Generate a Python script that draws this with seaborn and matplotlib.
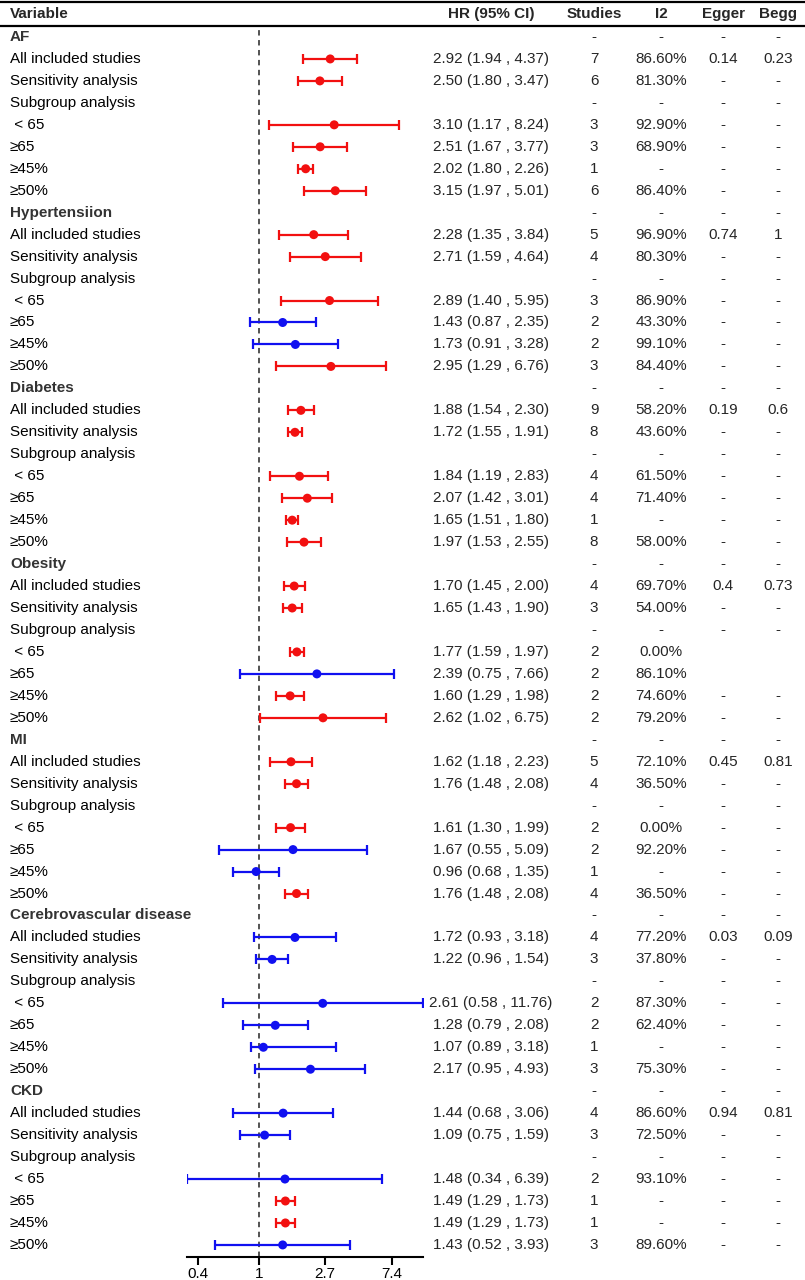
import numpy as np
import pandas as pd
import seaborn as sns
import matplotlib.pyplot as plt
from matplotlib.lines import Line2D
from matplotlib.transforms import blended_transform_factory

# rows of the table, one group header + 7 rows per risk factor
groups = ["AF", "Hypertensiion", "Diabetes", "Obesity", "MI",
          "Cerebrovascular disease", "CKD"]
sub_labels = ["All included studies", "Sensitivity analysis", "Subgroup analysis",
              " < 65", "≥65", "≥45%", "≥50%"]

nan = np.nan
hr = [nan, 2.92, 2.50, nan, 3.10, 2.51, 2.02, 3.15,
      nan, 2.28, 2.71, nan, 2.89, 1.43, 1.73, 2.95,
      nan, 1.88, 1.72, nan, 1.84, 2.07, 1.65, 1.97,
      nan, 1.70, 1.65, nan, 1.77, 2.39, 1.60, 2.62,
      nan, 1.62, 1.76, nan, 1.61, 1.67, 0.96, 1.76,
      nan, 1.72, 1.22, nan, 2.61, 1.28, 1.07, 2.17,
      nan, 1.44, 1.09, nan, 1.48, 1.49, 1.49, 1.43]
ci_low = [nan, 1.94, 1.80, nan, 1.17, 1.67, 1.80, 1.97,
          nan, 1.35, 1.59, nan, 1.40, 0.87, 0.91, 1.29,
          nan, 1.54, 1.55, nan, 1.19, 1.42, 1.51, 1.53,
          nan, 1.45, 1.43, nan, 1.59, 0.75, 1.29, 1.02,
          nan, 1.18, 1.48, nan, 1.30, 0.55, 0.68, 1.48,
          nan, 0.93, 0.96, nan, 0.58, 0.79, 0.89, 0.95,
          nan, 0.68, 0.75, nan, 0.34, 1.29, 1.29, 0.52]
ci_high = [nan, 4.37, 3.47, nan, 8.24, 3.77, 2.26, 5.01,
           nan, 3.84, 4.64, nan, 5.95, 2.35, 3.28, 6.76,
           nan, 2.30, 1.91, nan, 2.83, 3.01, 1.80, 2.55,
           nan, 2.00, 1.90, nan, 1.97, 7.66, 1.98, 6.75,
           nan, 2.23, 2.08, nan, 1.99, 5.09, 1.35, 2.08,
           nan, 3.18, 1.54, nan, 11.76, 2.08, 3.18, 4.93,
           nan, 3.06, 1.59, nan, 6.39, 1.73, 1.73, 3.93]
studies = ["-", "7", "6", "-", "3", "3", "1", "6",
           "-", "5", "4", "-", "3", "2", "2", "3",
           "-", "9", "8", "-", "4", "4", "1", "8",
           "-", "4", "3", "-", "2", "2", "2", "2",
           "-", "5", "4", "-", "2", "2", "1", "4",
           "-", "4", "3", "-", "2", "2", "1", "3",
           "-", "4", "3", "-", "2", "1", "1", "3"]
i2 = ["-", "86.60%", "81.30%", "-", "92.90%", "68.90%", "-", "86.40%",
      "-", "96.90%", "80.30%", "-", "86.90%", "43.30%", "99.10%", "84.40%",
      "-", "58.20%", "43.60%", "-", "61.50%", "71.40%", "-", "58.00%",
      "-", "69.70%", "54.00%", "-", "0.00%", "86.10%", "74.60%", "79.20%",
      "-", "72.10%", "36.50%", "-", "0.00%", "92.20%", "-", "36.50%",
      "-", "77.20%", "37.80%", "-", "87.30%", "62.40%", "-", "75.30%",
      "-", "86.60%", "72.50%", "-", "93.10%", "-", "-", "89.60%"]
egger = ["-", "0.14", "-", "-", "-", "-", "-", "-",
         "-", "0.74", "-", "-", "-", "-", "-", "-",
         "-", "0.19", "-", "-", "-", "-", "-", "-",
         "-", "0.4", "-", "-", "", "", "-", "-",
         "-", "0.45", "-", "-", "-", "-", "-", "-",
         "-", "0.03", "-", "-", "-", "-", "-", "-",
         "-", "0.94", "-", "-", "-", "-", "-", "-"]
begg = ["-", "0.23", "-", "-", "-", "-", "-", "-",
        "-", "1", "-", "-", "-", "-", "-", "-",
        "-", "0.6", "-", "-", "-", "-", "-", "-",
        "-", "0.73", "-", "-", "", "", "-", "-",
        "-", "0.81", "-", "-", "-", "-", "-", "-",
        "-", "0.09", "-", "-", "-", "-", "-", "-",
        "-", "0.81", "-", "-", "-", "-", "-", "-"]

labels = []
is_group = []
for g in groups:
    labels.append(g)
    is_group.append(True)
    for s in sub_labels:
        labels.append(s)
        is_group.append(False)

df = pd.DataFrame({"label": labels, "hr": hr, "lo": ci_low, "hi": ci_high,
                   "studies": studies, "i2": i2, "egger": egger, "begg": begg,
                   "group": is_group})
df["row"] = np.arange(len(df))
df["sig"] = df["lo"] > 1

sns.set_theme(style="ticks")
plt.rcParams["font.family"] = ["Liberation Sans", "DejaVu Sans"]

W, H = 805, 1280
fig = plt.figure(figsize=(W / 100, H / 100), dpi=100)
ax = fig.add_axes([187 / W, (H - 1257) / H, (423 - 187) / W, (1257 - 26) / H])

pts = df.dropna(subset=["hr"])
colors = {True: "#f21010", False: "#1010f0"}
for sig, part in pts.groupby("sig"):
    ax.errorbar(part["hr"], part["row"],
                xerr=[part["hr"] - part["lo"], part["hi"] - part["hr"]],
                fmt="none", ecolor=colors[sig], elinewidth=1.6,
                capsize=3.5, capthick=1.6)
sns.scatterplot(data=pts, x="hr", y="row", hue="sig", palette=colors,
                s=42, linewidth=0, legend=False, ax=ax, zorder=3)

ax.axvline(1, color="#444444", lw=1.3, ls=(0, (3, 2.5)), zorder=1)
ax.set_xscale("log")
ax.set_xlim(0.34, 11.76)
ax.set_ylim(55.55, -0.5)
ax.set_xticks([0.4, 1, 2.7, 7.4])
ax.set_xticklabels(["0.4", "1", "2.7", "7.4"])
ax.minorticks_off()
ax.set_yticks([])
ax.set_xlabel("")
ax.set_ylabel("")
sns.despine(ax=ax, left=True)
ax.spines["bottom"].set_linewidth(1.5)
ax.spines["bottom"].set_color("black")
ax.tick_params(axis="x", length=6, width=1.5, labelsize=11, colors="black", pad=1.5)

# table text
tr = blended_transform_factory(fig.transFigure, ax.transData)
fs = 11
for _, r in df.iterrows():
    y = r["row"]
    if r["group"]:
        ax.text(10 / W, y, r["label"], transform=tr, ha="left", va="center",
                fontsize=fs, fontweight="bold", color="#333333", clip_on=False)
    else:
        ax.text(10 / W, y, r["label"], transform=tr, ha="left", va="center",
                fontsize=fs, color="black", clip_on=False)
    if not np.isnan(r["hr"]):
        txt = f"{r['hr']:.2f} ({r['lo']:.2f} , {r['hi']:.2f})"
        ax.text(491 / W, y, txt, transform=tr, ha="center", va="center",
                fontsize=fs, clip_on=False)
    for xc, col in [(594, "studies"), (661, "i2"), (723, "egger"), (778, "begg")]:
        ax.text(xc / W, y, r[col], transform=tr, ha="center", va="center",
                fontsize=fs, clip_on=False)

# header
hy = 1 - 14 / H
fig.text(10 / W, hy, "Variable", ha="left", va="center", fontsize=fs, fontweight="bold")
for xc, name in [(491, "HR (95% CI)"), (594, "Studies"), (661, "I2"),
                 (723, "Egger"), (778, "Begg")]:
    fig.text(xc / W, hy, name, ha="center", va="center", fontsize=fs, fontweight="bold")

for yy in [1.5, 26]:
    fig.add_artist(Line2D([0, 1], [1 - yy / H, 1 - yy / H], color="black", lw=1.6,
                          transform=fig.transFigure))

fig.savefig("out.png", dpi=100)
